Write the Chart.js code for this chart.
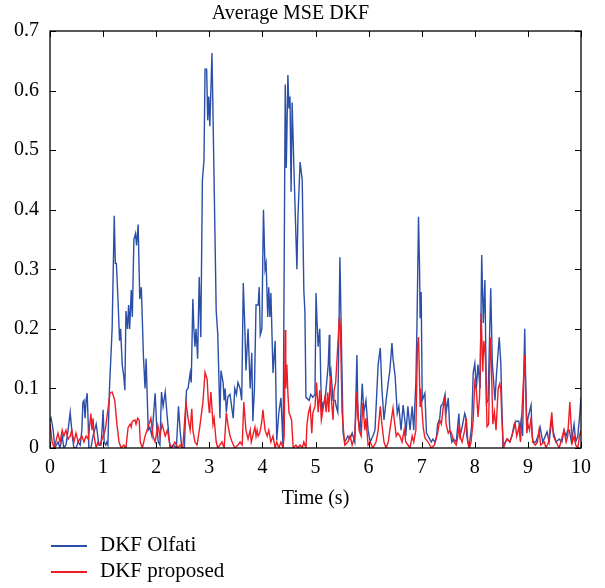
<!DOCTYPE html>
<html>
<head>
<meta charset="utf-8">
<script src="https://cdn.jsdelivr.net/npm/chart.js@4.4.1/dist/chart.umd.min.js"></script>
<style>
  html, body { margin: 0; padding: 0; background: #fff; }
  #wrap { position: relative; width: 605px; height: 588px; }
  canvas { position: absolute; left: 0; top: 0; }
  .lg { position: absolute; font-family: "Liberation Serif", "DejaVu Serif", serif; font-size: 21px; line-height: 21px; color: #000; white-space: nowrap; }
  .sw { position: absolute; height: 1.5px; width: 36px; left: 51px; }
</style>
</head>
<body>
<div id="wrap">
  <canvas id="c" width="605" height="588"></canvas>
  <div class="sw" style="top:545px; background:#2B4FA8;"></div>
  <div class="lg" style="left:100px; top:534px;">DKF Olfati</div>
  <div class="sw" style="top:571px; background:#EE1C25;"></div>
  <div class="lg" style="left:100px; top:560px;">DKF proposed</div>
</div>
<script>
const chartTitle = "Average MSE DKF";
const xAxisTitle = "Time (s)";
const seriesNames = ["DKF Olfati", "DKF proposed"];
const xTicks = [0,1,2,3,4,5,6,7,8,9,10];
const yTicks = [0,0.1,0.2,0.3,0.4,0.5,0.6,0.7];

// [time (s), MSE]
const olfatiSamples = [[0,0.045],[0.02,0.05],[0.06,0.03],[0.09,0],[0.15,0.01],[0.19,0],[0.23,0.02],[0.26,0],[0.3,0.005],[0.34,0.03],[0.38,0.06],[0.4,0.04],[0.42,0.02],[0.45,0],[0.49,0],[0.53,0.01],[0.57,0.005],[0.6,0.03],[0.62,0.077],[0.64,0.08],[0.66,0.05],[0.68,0.08],[0.7,0.092],[0.72,0.04],[0.73,0],[0.77,0],[0.81,0.02],[0.87,0.04],[0.9,0.02],[0.92,0.005],[0.96,0.005],[0.98,0.03],[1.0,0.064],[1.02,0.01],[1.05,0.005],[1.07,0.01],[1.09,0.005],[1.12,0.1],[1.17,0.2],[1.21,0.39],[1.23,0.31],[1.25,0.31],[1.28,0.25],[1.31,0.18],[1.33,0.2],[1.36,0.14],[1.39,0.12],[1.41,0.097],[1.43,0.23],[1.46,0.2],[1.48,0.24],[1.5,0.2],[1.53,0.265],[1.55,0.22],[1.58,0.35],[1.61,0.36],[1.63,0.34],[1.66,0.375],[1.69,0.25],[1.72,0.27],[1.76,0.153],[1.79,0.1],[1.81,0.15],[1.85,0.03],[1.88,0.035],[1.92,0.02],[1.98,0.092],[2.01,0.035],[2.04,0.01],[2.07,0.005],[2.1,0.094],[2.13,0.07],[2.17,0.094],[2.2,0.06],[2.23,0.03],[2.26,0],[2.32,0.005],[2.38,0],[2.42,0.07],[2.45,0.03],[2.48,0],[2.53,0],[2.57,0.097],[2.6,0.1],[2.64,0.126],[2.66,0.11],[2.69,0.25],[2.71,0.2],[2.73,0.17],[2.75,0.2],[2.78,0.15],[2.81,0.287],[2.84,0.186],[2.87,0.45],[2.9,0.483],[2.92,0.636],[2.95,0.636],[2.97,0.55],[2.99,0.59],[3.01,0.54],[3.05,0.663],[3.07,0.56],[3.13,0.23],[3.16,0.19],[3.2,0.05],[3.22,0.13],[3.26,0.11],[3.28,0.08],[3.3,0.1],[3.32,0.06],[3.35,0.086],[3.39,0.09],[3.42,0.07],[3.45,0.05],[3.48,0.1],[3.51,0.09],[3.54,0.11],[3.58,0.1],[3.61,0.08],[3.64,0.277],[3.67,0.2],[3.69,0.13],[3.73,0.2],[3.77,0.1],[3.8,0.16],[3.82,0.045],[3.85,0.1],[3.88,0.24],[3.92,0.24],[3.94,0.27],[3.96,0.19],[3.99,0.2],[4.02,0.4],[4.05,0.3],[4.07,0.31],[4.1,0.22],[4.12,0.27],[4.14,0.22],[4.16,0.26],[4.2,0.126],[4.24,0.18],[4.27,0.013],[4.31,0.06],[4.35,0.084],[4.39,0],[4.43,0.61],[4.45,0.47],[4.48,0.626],[4.5,0.57],[4.52,0.59],[4.54,0.43],[4.56,0.58],[4.6,0.45],[4.65,0.3],[4.67,0.39],[4.71,0.48],[4.75,0.45],[4.78,0.265],[4.8,0.23],[4.82,0.085],[4.88,0.08],[4.91,0.09],[4.95,0.085],[4.99,0.09],[5.01,0.26],[5.03,0.21],[5.05,0.17],[5.08,0.2],[5.1,0.11],[5.12,0.06],[5.14,0.075],[5.18,0.08],[5.2,0.1],[5.22,0.12],[5.24,0.14],[5.26,0.19],[5.27,0.12],[5.29,0.13],[5.33,0.08],[5.37,0.08],[5.39,0.07],[5.42,0.06],[5.46,0.32],[5.48,0.22],[5.52,0.025],[5.55,0.01],[5.61,0.02],[5.65,0.015],[5.69,0.025],[5.74,0.01],[5.78,0.156],[5.8,0.05],[5.84,0.03],[5.88,0.108],[5.91,0.06],[5.95,0.08],[5.99,0.03],[6.03,0.01],[6.08,0.02],[6.12,0.03],[6.18,0.14],[6.22,0.168],[6.25,0.1],[6.29,0.047],[6.33,0.08],[6.37,0.11],[6.4,0.13],[6.44,0.176],[6.46,0.15],[6.5,0.12],[6.54,0.058],[6.57,0.07],[6.61,0.03],[6.65,0.072],[6.69,0.04],[6.7,0.02],[6.74,0.07],[6.78,0.03],[6.82,0.07],[6.85,0.03],[6.89,0.11],[6.91,0.2],[6.94,0.388],[6.96,0.3],[6.97,0.218],[6.99,0.262],[7.01,0.08],[7.06,0.092],[7.09,0.025],[7.14,0.017],[7.18,0.01],[7.21,0.015],[7.25,0.01],[7.28,0.02],[7.3,0.04],[7.34,0.05],[7.36,0.07],[7.4,0.075],[7.44,0.09],[7.46,0.06],[7.5,0.084],[7.53,0.03],[7.57,0.01],[7.6,0.015],[7.65,0.01],[7.7,0.058],[7.72,0.02],[7.75,0.03],[7.81,0.058],[7.83,0.052],[7.85,0.02],[7.89,0],[7.94,0.036],[7.97,0.126],[8.0,0.142],[8.03,0.1],[8.06,0.14],[8.08,0.12],[8.1,0.1],[8.13,0.324],[8.16,0.21],[8.19,0.282],[8.22,0.075],[8.25,0.08],[8.3,0.268],[8.33,0.142],[8.38,0.08],[8.41,0.126],[8.46,0.186],[8.49,0.142],[8.53,0],[8.57,0.01],[8.62,0.015],[8.66,0.01],[8.7,0.02],[8.74,0.04],[8.78,0.045],[8.83,0.045],[8.85,0.03],[8.87,0.045],[8.9,0.02],[8.94,0.2],[8.95,0.15],[8.98,0.03],[9.0,0.05],[9.06,0.072],[9.08,0.02],[9.1,0.01],[9.15,0.01],[9.19,0.02],[9.23,0.035],[9.28,0.01],[9.36,0.027],[9.4,0.01],[9.45,0.05],[9.47,0.03],[9.53,0.01],[9.59,0.015],[9.64,0.01],[9.68,0.03],[9.72,0.02],[9.75,0.03],[9.78,0.03],[9.82,0.01],[9.87,0.04],[9.9,0.01],[9.94,0.02],[9.97,0.05],[10,0.084]];

const proposedSamples = [[0,0.04],[0.04,0.01],[0.08,0],[0.15,0.025],[0.19,0.01],[0.23,0.03],[0.26,0.02],[0.3,0.03],[0.34,0.015],[0.38,0.02],[0.41,0.03],[0.45,0.01],[0.49,0.025],[0.53,0.01],[0.56,0.015],[0.6,0.02],[0.64,0.01],[0.68,0.02],[0.72,0.015],[0.77,0.058],[0.79,0.03],[0.81,0.05],[0.83,0.02],[0.87,0],[0.9,0.01],[0.94,0.005],[0.98,0.015],[1.04,0.03],[1.07,0.05],[1.13,0.092],[1.17,0.094],[1.22,0.08],[1.26,0.04],[1.3,0.01],[1.34,0],[1.39,0.005],[1.43,0],[1.47,0.034],[1.51,0.04],[1.53,0.035],[1.55,0.045],[1.6,0.047],[1.62,0.04],[1.65,0.05],[1.68,0.047],[1.7,0.01],[1.74,0],[1.79,0.02],[1.9,0.05],[1.94,0.02],[1.98,0.01],[2.03,0.038],[2.07,0.02],[2.11,0.04],[2.17,0.02],[2.21,0.03],[2.26,0.005],[2.3,0],[2.35,0.01],[2.41,0],[2.45,0.005],[2.5,0],[2.56,0.077],[2.6,0.05],[2.64,0.03],[2.67,0.066],[2.69,0.03],[2.73,0.01],[2.77,0.005],[2.82,0.035],[2.88,0.077],[2.92,0.127],[2.96,0.115],[2.98,0.08],[3.0,0.06],[3.01,0.07],[3.03,0.094],[3.07,0.04],[3.09,0.05],[3.13,0.01],[3.16,0],[3.2,0.005],[3.24,0.01],[3.28,0],[3.32,0.059],[3.35,0.04],[3.39,0.02],[3.43,0.01],[3.48,0],[3.54,0.005],[3.58,0.01],[3.62,0.005],[3.65,0.077],[3.69,0.03],[3.73,0.015],[3.77,0.03],[3.79,0.01],[3.86,0.035],[3.88,0.02],[3.9,0.03],[3.92,0.02],[3.95,0.025],[3.99,0.045],[4.01,0.064],[4.05,0.03],[4.09,0.02],[4.12,0.03],[4.16,0.01],[4.2,0.02],[4.24,0],[4.27,0.01],[4.31,0],[4.35,0.01],[4.39,0],[4.41,0.02],[4.43,0.198],[4.44,0.1],[4.46,0.14],[4.48,0.092],[4.5,0.06],[4.55,0.047],[4.56,0.03],[4.58,0],[4.63,0.005],[4.67,0],[4.71,0.005],[4.75,0],[4.78,0.01],[4.82,0],[4.84,0.04],[4.87,0.06],[4.9,0.07],[4.93,0.025],[4.95,0.059],[4.99,0.07],[5.02,0.11],[5.05,0.06],[5.08,0.097],[5.11,0.047],[5.14,0.064],[5.18,0.086],[5.2,0.06],[5.23,0.093],[5.25,0.06],[5.28,0.12],[5.3,0.08],[5.33,0.047],[5.35,0.097],[5.38,0.11],[5.45,0.22],[5.47,0.2],[5.5,0.06],[5.55,0.005],[5.61,0.01],[5.65,0.02],[5.69,0.005],[5.74,0.02],[5.78,0.094],[5.82,0.03],[5.86,0.02],[5.89,0.075],[5.93,0.03],[5.95,0.05],[5.99,0.005],[6.03,0.01],[6.08,0],[6.14,0.01],[6.18,0.03],[6.22,0.07],[6.25,0.04],[6.29,0.01],[6.33,0],[6.37,0.01],[6.4,0.03],[6.46,0.067],[6.48,0.05],[6.52,0.02],[6.55,0.025],[6.59,0.02],[6.63,0.01],[6.67,0.03],[6.7,0.01],[6.74,0.005],[6.78,0],[6.82,0.02],[6.85,0.01],[6.89,0.03],[6.92,0.17],[6.94,0.186],[6.95,0.15],[6.97,0.07],[6.98,0.1],[7.0,0.07],[7.03,0.034],[7.06,0.017],[7.12,0.01],[7.18,0],[7.24,0.005],[7.3,0.025],[7.34,0.047],[7.37,0.04],[7.4,0.064],[7.43,0.086],[7.46,0.04],[7.5,0.025],[7.53,0.03],[7.56,0.025],[7.61,0.01],[7.65,0.005],[7.68,0.02],[7.71,0.04],[7.73,0.017],[7.76,0.01],[7.81,0.03],[7.84,0.05],[7.87,0.01],[7.9,0],[7.93,0.01],[7.97,0.047],[8.0,0.11],[8.03,0.097],[8.06,0.052],[8.09,0.086],[8.12,0.226],[8.15,0.128],[8.17,0.18],[8.2,0.153],[8.23,0.036],[8.26,0.04],[8.29,0.186],[8.31,0.148],[8.34,0.04],[8.37,0.06],[8.4,0.03],[8.44,0.1],[8.47,0.108],[8.49,0.097],[8.51,0.05],[8.54,0],[8.6,0.015],[8.66,0.01],[8.73,0.03],[8.76,0.042],[8.79,0.02],[8.83,0.035],[8.86,0.01],[8.94,0.156],[8.95,0.12],[8.98,0.025],[9.0,0.04],[9.03,0.03],[9.06,0.052],[9.09,0.01],[9.14,0.005],[9.18,0.01],[9.21,0.03],[9.24,0.005],[9.31,0.01],[9.34,0],[9.39,0.01],[9.45,0.06],[9.48,0.02],[9.53,0.01],[9.59,0],[9.62,0.01],[9.65,0.02],[9.68,0.03],[9.72,0.01],[9.75,0.02],[9.79,0.077],[9.82,0.03],[9.84,0.01],[9.87,0.02],[9.9,0.005],[9.94,0],[9.97,0.02],[10,0.03]];

const FONT = "'Liberation Serif', 'DejaVu Serif', serif";

const framePlugin = {
  id: 'frame',
  afterDraw(chart) {
    const {ctx, chartArea: a, scales} = chart;
    const tl = 6;
    ctx.save();
    ctx.strokeStyle = '#000';
    ctx.lineWidth = 1.3;
    ctx.strokeRect(a.left, a.top, a.right - a.left, a.bottom - a.top);
    ctx.lineWidth = 1;
    ctx.beginPath();
    scales.x.ticks.forEach(t => {
      const px = Math.round(scales.x.getPixelForValue(t.value)) + 0.5;
      ctx.moveTo(px, a.bottom); ctx.lineTo(px, a.bottom - tl);
      ctx.moveTo(px, a.top); ctx.lineTo(px, a.top + tl);
    });
    scales.y.ticks.forEach(t => {
      const py = Math.round(scales.y.getPixelForValue(t.value)) + 0.5;
      ctx.moveTo(a.left, py); ctx.lineTo(a.left + tl, py);
      ctx.moveTo(a.right, py); ctx.lineTo(a.right - tl, py);
    });
    ctx.stroke();
    ctx.restore();
  }
};

new Chart(document.getElementById('c'), {
  type: 'line',
  data: {
    datasets: [
      {
        label: seriesNames[0],
        data: olfatiSamples.map(p => ({x: p[0], y: p[1]})),
        borderColor: '#2B4FA8',
        borderWidth: 1.4,
        pointRadius: 0,
        tension: 0,
        order: 1
      },
      {
        label: seriesNames[1],
        data: proposedSamples.map(p => ({x: p[0], y: p[1]})),
        borderColor: '#EE1C25',
        borderWidth: 1.4,
        pointRadius: 0,
        tension: 0,
        order: 0
      }
    ]
  },
  options: {
    responsive: false,
    animation: false,
    events: [],
    layout: { padding: { left: 0, right: 24, top: 0, bottom: 70 } },
    plugins: {
      legend: { display: false },
      tooltip: { enabled: false },
      title: {
        display: true,
        text: chartTitle,
        color: '#000',
        font: { family: FONT, size: 20, weight: 'normal' },
        padding: { top: 2, bottom: 5 }
      }
    },
    scales: {
      x: {
        type: 'linear',
        min: 0, max: 10,
        afterBuildTicks: s => { s.ticks = xTicks.map(v => ({value: v})); },
        afterFit: s => { s.height = 70; },
        grid: { display: false, drawTicks: false },
        border: { display: false },
        ticks: {
          color: '#000',
          font: { family: FONT, size: 20 },
          padding: 8,
          maxRotation: 0,
          autoSkip: false,
          callback: v => String(v)
        },
        title: {
          display: true,
          text: xAxisTitle,
          color: '#000',
          font: { family: FONT, size: 20 },
          padding: { top: 0, bottom: 7 }
        }
      },
      y: {
        type: 'linear',
        min: 0, max: 0.7,
        afterBuildTicks: s => { s.ticks = yTicks.map(v => ({value: v})); },
        afterFit: s => { s.width = 50; },
        grid: { display: false, drawTicks: false },
        border: { display: false },
        ticks: {
          color: '#000',
          font: { family: FONT, size: 20 },
          padding: 11,
          autoSkip: false,
          callback: v => String(Math.round(v * 10) / 10)
        }
      }
    }
  },
  plugins: [framePlugin]
});
</script>
</body>
</html>
